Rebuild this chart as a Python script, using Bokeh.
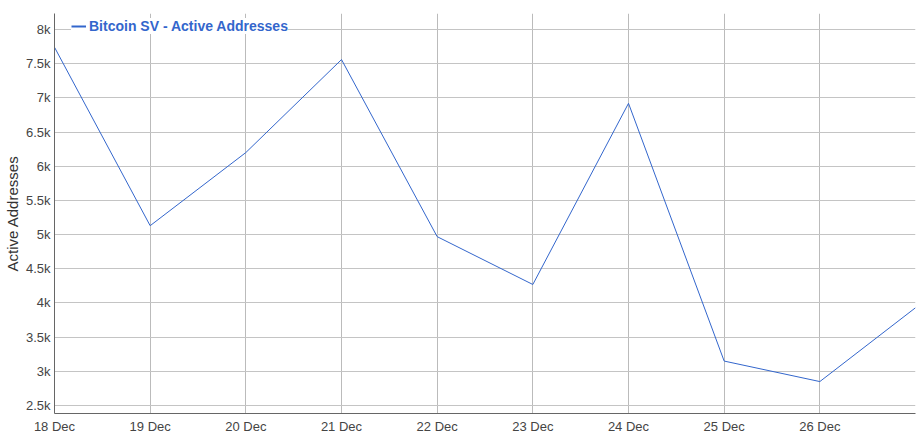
import pandas as pd
from bokeh.plotting import figure
from bokeh.models import Range1d, FixedTicker, DatetimeTickFormatter, NumeralTickFormatter, ColumnDataSource, Legend, LegendItem
from bokeh.embed import file_html
from bokeh.resources import INLINE

dates = ["2018-12-18", "2018-12-19", "2018-12-20", "2018-12-21", "2018-12-22",
         "2018-12-23", "2018-12-24", "2018-12-25", "2018-12-26", "2018-12-27"]
active_addresses = [7740, 5130, 6200, 7560, 4970, 4270, 6920, 3150, 2850, 3930]
y_ticks = [2500, 3000, 3500, 4000, 4500, 5000, 5500, 6000, 6500, 7000, 7500, 8000]
series_name = "Bitcoin SV - Active Addresses"
y_label = "Active Addresses"

x = pd.to_datetime(dates)
src = ColumnDataSource(dict(x=x, y=active_addresses))

FONT = "Liberation Sans"
COLOR = "#3366cc"

p = figure(width=918, height=436, x_axis_type="datetime",
           output_backend="svg", toolbar_location=None,
           x_range=Range1d(x[0], x[-1]), y_range=Range1d(2383, 8234),
           min_border_left=54, min_border_right=3, min_border_top=13, min_border_bottom=23)
p.outline_line_color = None

r = p.line("x", "y", source=src, line_color=COLOR, line_width=1)
# legend key only (thicker swatch, draws nothing in the plot)
key = p.line(x=[x[0]], y=[float("nan")], line_color=COLOR, line_width=2)

tick_ms = [int(t.value // 10**6) for t in x[:-1]]
p.xaxis.ticker = FixedTicker(ticks=tick_ms)
p.xaxis.formatter = DatetimeTickFormatter(days="%d %b", months="%d %b", hours="%d %b")
p.yaxis.ticker = FixedTicker(ticks=y_ticks)
p.yaxis.formatter = NumeralTickFormatter(format="0.[0]a")

for ax in (p.xaxis, p.yaxis):
    ax.major_tick_out = 0
    ax.major_tick_in = 0
    ax.major_tick_line_color = None
    ax.minor_tick_line_color = None
    ax.axis_line_color = "#666666"
    ax.major_label_text_font = FONT
    ax.major_label_text_font_size = "13px"
    ax.major_label_text_color = "#444444"
p.xaxis.major_label_standoff = 5
p.yaxis.major_label_standoff = 4
p.yaxis.axis_label = y_label
p.yaxis.axis_label_text_font = FONT
p.yaxis.axis_label_text_font_size = "15px"
p.yaxis.axis_label_text_font_style = "normal"
p.yaxis.axis_label_text_color = "#333333"
p.yaxis.axis_label_standoff = 2

p.xgrid.grid_line_color = "#bbbbbb"
p.ygrid.grid_line_color = "#c4c4c4"

lg = Legend(items=[LegendItem(label=series_name, renderers=[key])])
lg.location = (17, 379)
lg.margin = 0
lg.padding = 2
lg.spacing = 0
lg.border_line_color = None
lg.background_fill_color = "white"
lg.background_fill_alpha = 1
lg.glyph_width = 15
lg.glyph_height = 14
lg.label_standoff = 3
lg.label_text_font = FONT
lg.label_text_font_size = "14px"
lg.label_text_font_style = "bold"
lg.label_text_color = COLOR
lg.label_height = 14
p.add_layout(lg, "center")

open("out.html", "w").write(file_html(p, INLINE))
